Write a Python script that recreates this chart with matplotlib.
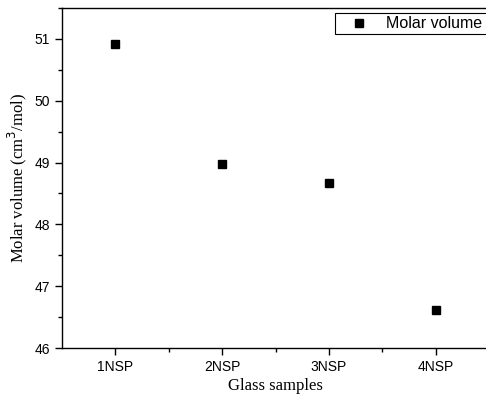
import matplotlib.pyplot as plt
from matplotlib.ticker import MultipleLocator, FixedLocator

samples = ["1NSP", "2NSP", "3NSP", "4NSP"]
molar_volume = [50.91, 48.98, 48.67, 46.61]

fig = plt.figure(figsize=(4.86, 4.01), dpi=100)
# right spine falls just outside the picture, like the cropped original
ax = fig.add_axes([62 / 486, 53 / 401, 427 / 486, 340 / 401])

x = range(1, len(samples) + 1)
ax.plot(x, molar_volume, linestyle="none", marker="s", color="black",
        markersize=6, label="Molar volume")

ax.set_xlim(0.5, 4.5)
ax.set_ylim(46, 51.5)
ax.set_xticks(list(x))
ax.set_xticklabels(samples, family="Liberation Sans", fontsize=10)
ax.xaxis.set_minor_locator(FixedLocator([1.5, 2.5, 3.5]))
ax.yaxis.set_major_locator(MultipleLocator(1))
ax.yaxis.set_minor_locator(MultipleLocator(0.5))
for lab in ax.get_yticklabels():
    lab.set_family("Liberation Sans")
    lab.set_fontsize(10)

ax.tick_params(which="major", direction="out", length=5, width=1)
ax.tick_params(which="minor", direction="out", length=3, width=1)
ax.tick_params(top=False, right=False)
for s in ax.spines.values():
    s.set_linewidth(1)

ax.set_xlabel("Glass samples", family="Liberation Serif", fontsize=12, labelpad=3)
ax.set_ylabel("Molar volume (cm$^3$/mol)", family="Liberation Serif", fontsize=12)

# legend box runs off the right edge, as in the original
leg = ax.legend(loc="upper left", bbox_to_anchor=(0.639, 0.0, 0.361, 0.985),
                mode="expand", fancybox=False,
                edgecolor="black", framealpha=1, borderaxespad=0, borderpad=0.2,
                handlelength=2.6, handletextpad=0.4,
                prop={"family": "Liberation Sans", "size": 11.5})
leg.get_frame().set_linewidth(0.8)

fig.savefig("out.png", dpi=100)
